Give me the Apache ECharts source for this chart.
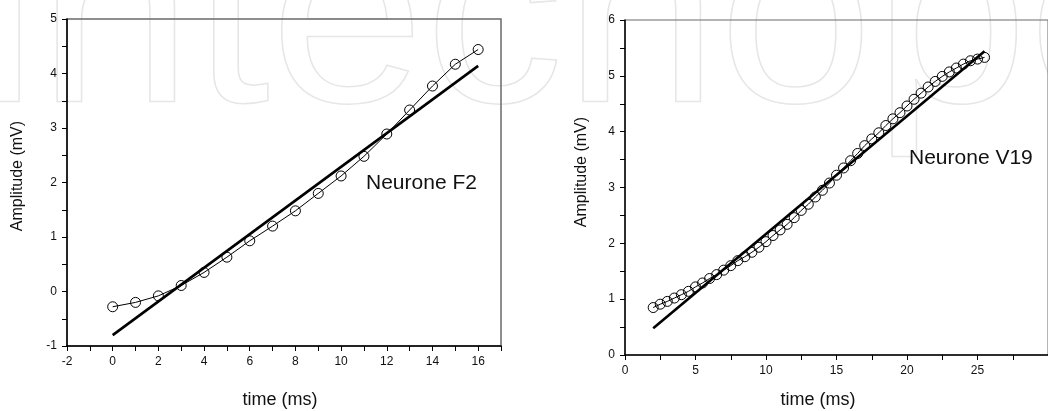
<!DOCTYPE html>
<html>
<head>
<meta charset="utf-8">
<script src="https://cdn.jsdelivr.net/npm/echarts@6/dist/echarts.min.js"></script>
<style>
html,body{margin:0;padding:0;background:#fff;}
#c{width:1048px;height:411px;}
</style>
</head>
<body>
<div id="c"></div>
<script>
// ---- Neurone F2 ----
var f2Time = [0,1,2,3,4,5,6,7,8,9,10,11,12,13,14,15,16];
var f2Amp  = [-0.28,-0.20,-0.08,0.11,0.35,0.63,0.93,1.20,1.48,1.80,2.12,2.48,2.89,3.33,3.77,4.17,4.44];
var f2FitTime = [0,16];
var f2FitAmp  = [-0.80,4.14];
var f2XTicks = [-2,-1,0,1,2,3,4,5,6,7,8,9,10,11,12,13,14,15,16,17];
var f2XLabels = [-2,0,2,4,6,8,10,12,14,16];
var f2YTicks = [-1,-0.5,0,0.5,1,1.5,2,2.5,3,3.5,4,4.5,5];
var f2YLabels = [-1,0,1,2,3,4,5];

// ---- Neurone V19 ----
var v19Time = [2,2.5,3,3.5,4,4.5,5,5.5,6,6.5,7,7.5,8,8.5,9,9.5,10,10.5,11,11.5,12,12.5,13,13.5,14,14.5,15,15.5,16,16.5,17,17.5,18,18.5,19,19.5,20,20.5,21,21.5,22,22.5,23,23.5,24,24.5,25,25.5];
var v19Amp  = [0.85,0.91,0.96,1.02,1.08,1.14,1.22,1.29,1.37,1.44,1.52,1.60,1.69,1.76,1.84,1.93,2.03,2.14,2.24,2.34,2.46,2.59,2.70,2.83,2.95,3.08,3.22,3.35,3.48,3.61,3.75,3.87,3.98,4.11,4.23,4.34,4.46,4.58,4.69,4.80,4.90,4.99,5.07,5.14,5.21,5.27,5.30,5.33];
var v19FitTime = [2,25.5];
var v19FitAmp  = [0.48,5.44];
var v19XTicks = [0,2.5,5,7.5,10,12.5,15,17.5,20,22.5,25,27.5,30];
var v19XLabels = [0,5,10,15,20,25];
var v19YTicks = [0,0.5,1,1.5,2,2.5,3,3.5,4,4.5,5,5.5,6];
var v19YLabels = [0,1,2,3,4,5,6];

var FONT = '"Liberation Sans", Arial, sans-serif';

function pairs(xs, ys){ return xs.map(function(x,i){ return [x, ys[i]]; }); }

function axisCfg(gi, min, max, interval, ticks, labels){
  return {
    type:'value', gridIndex:gi, min:min, max:max, interval:interval,
    axisLine:{show:true, onZero:false, lineStyle:{color:'#000', width:1.5}},
    axisTick:{show:true, inside:false, length:5, customValues:ticks, lineStyle:{color:'#000', width:1}},
    axisLabel:{show:true, customValues:labels, margin:10, color:'#111', fontSize:12, fontFamily:FONT},
    splitLine:{show:false}
  };
}

function dataSeries(xi, pts){
  return {
    type:'line', xAxisIndex:xi, yAxisIndex:xi, data:pts,
    symbol:'circle', symbolSize:10, showSymbol:true,
    lineStyle:{color:'#000', width:1},
    itemStyle:{color:'rgba(0,0,0,0)', borderColor:'#000', borderWidth:1},
    emphasis:{disabled:true}, animation:false, z:3
  };
}
function fitSeries(xi, pts){
  return {
    type:'line', xAxisIndex:xi, yAxisIndex:xi, data:pts,
    symbol:'none', lineStyle:{color:'#000', width:2.6},
    emphasis:{disabled:true}, animation:false, z:4
  };
}

var chart = echarts.init(document.getElementById('c'), null, {renderer:'canvas'});
chart.setOption({
  backgroundColor:'#fff',
  animation:false,
  textStyle:{fontFamily:FONT},
  grid:[
    {left:67, top:19, width:434, height:327, show:true, borderColor:'#6a6a6a', borderWidth:1.5, backgroundColor:'transparent'},
    {left:625, top:20, width:472, height:335, show:true, borderColor:'#6a6a6a', borderWidth:1, backgroundColor:'transparent'}
  ],
  xAxis:[
    axisCfg(0, -2, 17, 2, f2XTicks, f2XLabels),
    axisCfg(1, 0, 30, 5, v19XTicks, v19XLabels)
  ],
  yAxis:[
    axisCfg(0, -1, 5, 1, f2YTicks, f2YLabels),
    axisCfg(1, 0, 6, 1, v19YTicks, v19YLabels)
  ],
  series:[
    dataSeries(0, pairs(f2Time, f2Amp)),
    fitSeries(0, pairs(f2FitTime, f2FitAmp)),
    dataSeries(1, pairs(v19Time, v19Amp)),
    fitSeries(1, pairs(v19FitTime, v19FitAmp))
  ],
  graphic:[
    {type:'text', z:-10, silent:true, x:-24, y:-104, scaleX:1.05,
      style:{text:'intechopen', font:'265px "Liberation Sans", Arial, sans-serif', fill:'rgba(0,0,0,0)', stroke:'#e6e6e6', lineWidth:1.5, verticalAlign:'top', align:'left'}},
    {type:'text', x:366, y:183, z:10, style:{text:'Neurone F2', font:'21px "Liberation Sans", Arial, sans-serif', fill:'#111', verticalAlign:'middle', align:'left'}},
    {type:'text', x:909, y:158, z:10, style:{text:'Neurone V19', font:'21px "Liberation Sans", Arial, sans-serif', fill:'#111', verticalAlign:'middle', align:'left'}},
    {type:'text', x:280, y:400, z:10, style:{text:'time (ms)', font:'18px "Liberation Sans", Arial, sans-serif', fill:'#111', verticalAlign:'middle', align:'center'}},
    {type:'text', x:818, y:400, z:10, style:{text:'time (ms)', font:'18px "Liberation Sans", Arial, sans-serif', fill:'#111', verticalAlign:'middle', align:'center'}},
    {type:'text', x:18, y:176, rotation:Math.PI/2, z:10, style:{text:'Amplitude (mV)', font:'16px "Liberation Sans", Arial, sans-serif', fill:'#111', verticalAlign:'middle', align:'center'}},
    {type:'text', x:582, y:172, rotation:Math.PI/2, z:10, style:{text:'Amplitude (mV)', font:'16px "Liberation Sans", Arial, sans-serif', fill:'#111', verticalAlign:'middle', align:'center'}}
  ]
});
</script>
</body>
</html>
